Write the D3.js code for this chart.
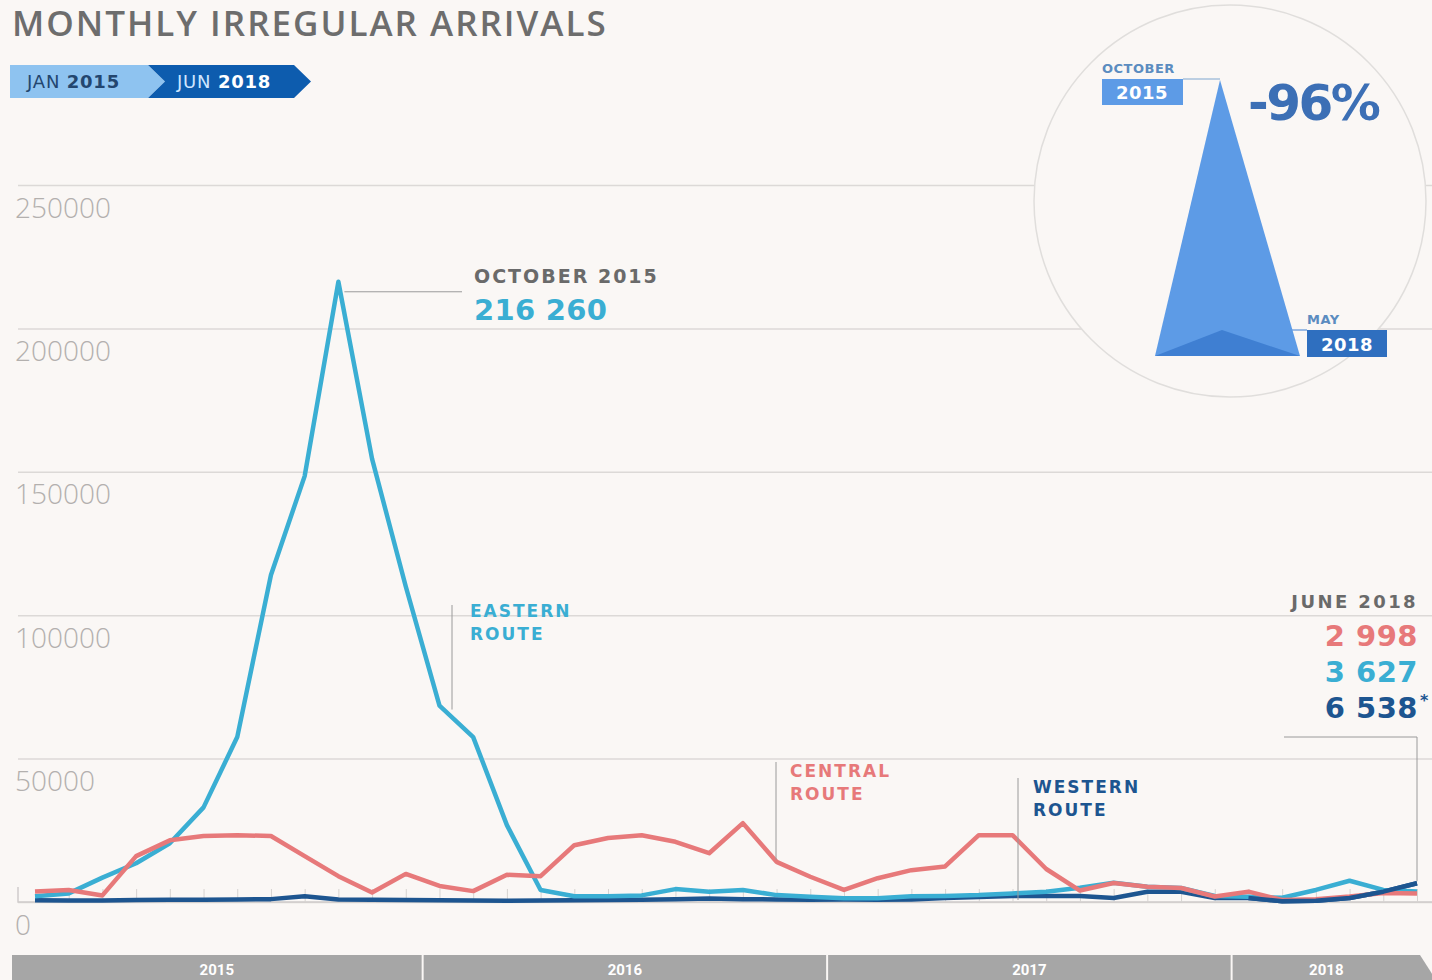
<!DOCTYPE html>
<style>
  html, body { margin:0; padding:0; background:#faf7f5; overflow:hidden; }
  svg { display:block; }
</style>
<svg width="1432" height="980"></svg>
<script src="https://d3js.org/d3.v7.min.js"></script>
<script>

// months Jan 2015 .. Jun 2018
var months = d3.range(42).map(function(i) { return i; });
var years = ["2015", "2016", "2017", "2018"];
var yTicks = [0, 50000, 100000, 150000, 200000, 250000];

var eastern = [
  2000, 3000, 8500, 13500, 20500, 33000, 57500, 114000, 148500, 216260, 154500, 110000,
  68500, 57500, 26800, 4200, 2000, 2000, 2300, 4500, 3600, 4200, 2400, 1800,
  1300, 1300, 2000, 2100, 2400, 3000, 3600, 5000, 6700, 5300, 4900, 2100,
  1800, 1500, 4200, 7400, 4200, 3627
];
var central = [
  3700, 4200, 2300, 16000, 21500, 23000, 23300, 23000, 16000, 9000, 3300, 9800,
  5600, 3800, 9500, 9000, 19800, 22300, 23300, 21000, 17000, 27500, 14000, 8800,
  4200, 8300, 11100, 12400, 23300, 23300, 11500, 4000, 6600, 5300, 4900, 1900,
  3600, 700, 1000, 1900, 3100, 2998
];
var western = [
  600, 500, 500, 700, 800, 800, 900, 1000, 2000, 900, 800, 700,
  600, 500, 400, 500, 600, 700, 800, 1000, 1200, 1000, 900, 800,
  900, 800, 900, 1400, 1700, 2100, 2100, 2100, 1400, 3600, 3600, 1400,
  1400, 300, 400, 1400, 3600, 6538
];
var juneLabels = ["2 998", "3 627", "6 538"];

var bg = "#faf7f5",
    cEast = "#3aaed3",
    cCentral = "#e7797a",
    cWest = "#1d5590",
    bold = "'DejaVu Sans', sans-serif";

var svg = d3.select("svg");

var x = d3.scaleLinear().domain([0, 41]).range([35, 1417]),
    y = d3.scaleLinear().domain([0, 250000]).range([902, 185]),
    step = x(1) - x(0);

// title
svg.append("text")
    .attr("x", 12).attr("y", 36)
    .attr("font-family", "'Open Sans', sans-serif")
    .attr("font-weight", 600)
    .attr("font-size", 35)
    .attr("letter-spacing", 2)
    .attr("fill", "#6d6d6d")
    .text("MONTHLY IRREGULAR ARRIVALS");

// date badge
svg.append("polygon")
    .attr("points", "10,65 148,65 165,81.5 148,98 10,98")
    .attr("fill", "#8ec3f0");
svg.append("polygon")
    .attr("points", "148,65 294,65 311,81.5 294,98 148,98 165,81.5")
    .attr("fill", "#0d5cae");
var b1 = svg.append("text").attr("x", 27).attr("y", 88)
    .attr("font-family", bold).attr("font-size", 18).attr("letter-spacing", 0.8).attr("fill", "#23466f");
b1.append("tspan").text("JAN ");
b1.append("tspan").attr("font-weight", "bold").text("2015");
var b2 = svg.append("text").attr("x", 177).attr("y", 88)
    .attr("font-family", bold).attr("font-size", 18).attr("letter-spacing", 0.8).attr("fill", "#cfe6ff");
b2.append("tspan").text("JUN ");
b2.append("tspan").attr("font-weight", "bold").attr("fill", "#fff").text("2018");

// y grid + labels
var yAxis = svg.append("g")
    .attr("transform", "translate(18,0)")
    .call(d3.axisRight(y).tickValues(yTicks).tickSize(1414).tickFormat(d3.format("d")));
yAxis.select(".domain").remove();
yAxis.selectAll(".tick line").attr("stroke", "#dcd9d7").attr("stroke-width", 1.5);
yAxis.selectAll(".tick text")
    .attr("x", -3).attr("dy", 32)
    .attr("text-anchor", "start")
    .attr("font-family", "'Open Sans', sans-serif")
    .attr("font-weight", 300)
    .attr("font-size", 28)
    .attr("fill", "#b3b0ae");

// inset circle (covers grid)
var cx = 1230, cy = 201;
svg.append("circle")
    .attr("cx", cx).attr("cy", cy).attr("r", 196)
    .attr("fill", bg).attr("stroke", "#e0dedc").attr("stroke-width", 1.5);

// month ticks along the baseline
var xAxis = svg.append("g")
    .attr("transform", "translate(0,902)")
    .call(d3.axisTop(x).tickValues(months.slice(1)).tickSize(13).tickFormat(""));
xAxis.select(".domain").attr("stroke", "#cfcccb").attr("stroke-width", 1.5)
    .attr("d", "M18,-15V0H1432");
xAxis.selectAll(".tick line").attr("stroke", "#d6d3d1");

// lines
var line = d3.line()
    .x(function(d, i) { return x(i); })
    .y(function(d) { return y(d); });

[[western, cWest], [eastern, cEast], [central, cCentral]].forEach(function(s) {
  svg.append("path")
      .datum(s[0])
      .attr("fill", "none")
      .attr("stroke", s[1])
      .attr("stroke-width", 4.5)
      .attr("stroke-linejoin", "round")
      .attr("d", line);
});
// western on top at the very end
svg.append("path")
    .datum(western.slice(36))
    .attr("fill", "none").attr("stroke", cWest).attr("stroke-width", 4.5)
    .attr("stroke-linejoin", "round")
    .attr("d", d3.line().x(function(d, i) { return x(i + 36); }).y(function(d) { return y(d); }));

// annotations
var ann = svg.append("g").attr("stroke", "#9a9a9a").attr("stroke-width", 1).attr("fill", "none");
var peak = eastern.indexOf(d3.max(eastern));
ann.append("path").attr("d", "M" + (x(peak) + 6) + "," + (y(eastern[peak]) + 10) + "H462");
ann.append("path").attr("d", "M452,605V" + (y(eastern[12]) + 4));
ann.append("path").attr("d", "M776,762V" + (y(central[22]) - 2));
ann.append("path").attr("d", "M1018,778V900");
ann.append("path").attr("d", "M1284,737H" + x(41) + "V" + (y(western[41]) - 2));

function label(tx, ty, size, color, txt, anchor, ls) {
  return svg.append("text")
      .attr("x", tx).attr("y", ty)
      .attr("font-family", bold).attr("font-weight", "bold")
      .attr("font-size", size).attr("fill", color)
      .attr("text-anchor", anchor || "start")
      .attr("letter-spacing", ls || 0)
      .text(txt);
}
label(474, 283, 19, "#6a6a6a", "OCTOBER 2015", "start", 2);
label(474, 320, 29, cEast, d3.format(",")(eastern[peak]).replace(",", " "), "start", 0.3);
label(470, 617, 17, cEast, "EASTERN", "start", 2);
label(470, 640, 17, cEast, "ROUTE", "start", 2);
label(790, 777, 17, cCentral, "CENTRAL", "start", 2);
label(790, 800, 17, cCentral, "ROUTE", "start", 2);
label(1033, 793, 17, cWest, "WESTERN", "start", 2);
label(1033, 816, 17, cWest, "ROUTE", "start", 2);
label(1418, 608, 18, "#6a6a6a", "JUNE 2018", "end", 2.4);
label(1418, 646, 29, cCentral, juneLabels[0], "end", 0.5);
label(1418, 682, 29, cEast, juneLabels[1], "end", 0.5);
label(1418, 718, 29, cWest, juneLabels[2], "end", 0.5);
label(1420, 706, 16, cWest, "*", "start");

// inset triangle
var apexY = 80, baseY = 356, smallY = 330;
svg.append("polygon")
    .attr("points", [[1155, baseY], [1220, apexY], [1300, baseY]].join(" "))
    .attr("fill", "#5d9be6");
svg.append("polygon")
    .attr("points", [[1155, baseY], [1222, smallY], [1300, baseY]].join(" "))
    .attr("fill", "#3f7fd2");
ann.append("path").attr("d", "M1183,79H1220").attr("stroke", "#7fa6cf");
ann.append("path").attr("d", "M1222,330H1307").attr("stroke", "#3f7fd2");
svg.append("rect").attr("x", 1102).attr("y", 79).attr("width", 81).attr("height", 26).attr("fill", "#5d9be6");
svg.append("rect").attr("x", 1307).attr("y", 330).attr("width", 80).attr("height", 27).attr("fill", "#2f6fbf");
label(1102, 73, 13, "#5b8cc0", "OCTOBER", "start", 0.5);
label(1142, 99, 18, "#fff", "2015", "middle", 0.5);
label(1307, 324, 13, "#5b8cc0", "MAY", "start", 0.5);
label(1347, 351, 18, "#fff", "2018", "middle", 0.5);
label(1248, 120, 50, "#3c6fb5", "-96%", "start", -2.5);

// year bar
var yb = svg.append("g");
years.forEach(function(yr, k) {
  var x0 = k === 0 ? 12 : x(k * 12) - step / 2 + 1,
      x1 = x(k * 12 + 11) + step / 2 - 1;
  if (k === 3) {
    yb.append("polygon")
        .attr("points", [[x0, 955], [1420, 955], [1436, 980], [x0, 980]].join(" "))
        .attr("fill", "#a6a6a6");
    x1 = 1420;
  } else {
    yb.append("rect").attr("x", x0).attr("y", 955).attr("width", x1 - x0).attr("height", 25)
        .attr("fill", "#a6a6a6");
  }
  yb.append("text")
      .attr("x", (x0 + x1) / 2).attr("y", 975)
      .attr("text-anchor", "middle")
      .attr("font-family", "Roboto, sans-serif").attr("font-weight", "bold")
      .attr("font-size", 15).attr("fill", "#fff")
      .text(yr);
});

</script>
